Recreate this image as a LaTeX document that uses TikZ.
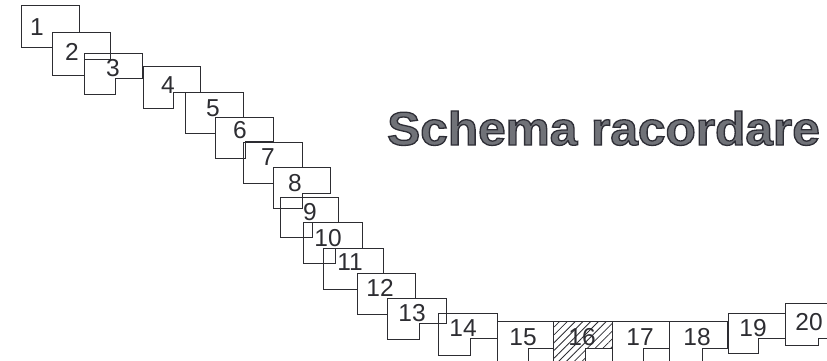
\documentclass[tikz,border=0pt]{standalone}
\usepackage{fontspec}
\setmainfont{Liberation Sans}
\usetikzlibrary{patterns.meta}
\definecolor{edge}{RGB}{45,45,50}
\definecolor{titlefill}{RGB}{112,114,120}
\newcommand{\plotparcel}[9]{%
  \draw[parcel] (#1,#2) -- (#3,#2) -- (#3,#6) -- (#5,#6) -- (#5,#4) -- (#1,#4) -- cycle;
  \node[plotno] (p#7) at (#8,#9) {#7};
}
\newcommand{\outlinedtext}[1]{{\color{titlefill}\special{pdf:literal direct 0.18 0.18 0.21 RG 1.3 w 2 Tr}#1\special{pdf:literal direct 0 Tr}}}
\begin{document}
\begin{tikzpicture}[x=1pt,y=-1pt,
  parcel/.style={draw=edge,line width=0.85pt,line join=miter},
  plotno/.style={text=edge,font=\fontsize{24.5}{24.5}\selectfont,inner sep=0pt},
  hatchfill/.style={pattern={Lines[angle=45,distance=5.5pt,line width=0.8pt]},pattern color=edge}]
\useasboundingbox (0,0) rectangle (827,360);
\clip (0,0) rectangle (827,360);
% hatched parcel 16
\fill[hatchfill] (553,321) -- (612,321) -- (612,348) -- (585,348) -- (585,375) -- (553,375) -- cycle;
\plotparcel{21}{5}{79}{47}{52}{32}{1}{37}{27}
\plotparcel{52}{32}{110}{75}{84}{59}{2}{72}{52}
\plotparcel{84}{53}{142}{94}{115}{78}{3}{113}{68}
\plotparcel{143}{66}{200}{108}{173}{92}{4}{168}{85}
\plotparcel{185}{92}{243}{133}{215}{117}{5}{213}{108}
\plotparcel{215}{117}{273}{158}{245}{141}{6}{240}{130}
\plotparcel{243}{142}{302}{183}{273}{167}{7}{268}{157}
\plotparcel{273}{167}{330}{208}{302}{193}{8}{295}{183}
\plotparcel{280}{197}{338}{237}{312}{222}{9}{310}{212}
\plotparcel{303}{222}{362}{263}{335}{248}{10}{328}{238}
\plotparcel{323}{248}{383}{289}{357}{273}{11}{350}{262}
\plotparcel{357}{273}{415}{314}{387}{298}{12}{380}{288}
\plotparcel{387}{298}{446}{339}{419}{323}{13}{412}{313}
\plotparcel{438}{313}{497}{355}{470}{338}{14}{463}{328}
\plotparcel{497}{321}{553}{375}{528}{348}{15}{523}{337}
\plotparcel{553}{321}{612}{375}{585}{348}{16}{582}{337}
\plotparcel{612}{321}{669}{375}{643}{348}{17}{640}{337}
\plotparcel{669}{321}{727}{375}{702}{348}{18}{697}{337}
\plotparcel{728}{313}{785}{353}{758}{338}{19}{753}{328}
\plotparcel{785}{303}{850}{345}{818}{338}{20}{809}{322}
% title
\node[anchor=base west,inner sep=0pt] (title) at (387,145)
  {\scalebox{1.055}[1]{\fontsize{47}{47}\selectfont\bfseries\outlinedtext{Schema racordare}}};
\end{tikzpicture}
\end{document}
